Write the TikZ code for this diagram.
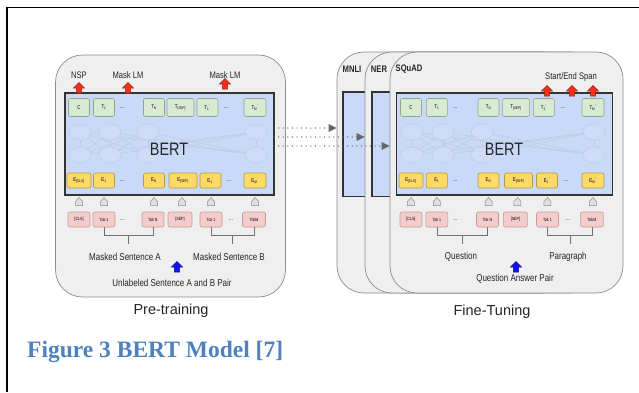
\documentclass[tikz,border=0pt]{standalone}
\usepackage{fontspec}
\setmainfont{Liberation Sans}[FakeStretch=0.8]
\newfontfamily\titlefont{Liberation Sans}
\newfontfamily\capfont{Liberation Serif}
\usetikzlibrary{calc,arrows.meta,shapes.geometric}

\definecolor{panelfill}{HTML}{EFEFEF}
\definecolor{panelline}{HTML}{8C8C8C}
\definecolor{bertfill}{HTML}{C9DAF8}
\definecolor{greenfill}{HTML}{D9EAD3}
\definecolor{greenline}{HTML}{8FA68A}
\definecolor{yellowfill}{HTML}{FFD966}
\definecolor{yellowline}{HTML}{B09A48}
\definecolor{pinkfill}{HTML}{F4CCCC}
\definecolor{pinkline}{HTML}{C49A9A}
\definecolor{capblue}{HTML}{4F81BD}
\definecolor{arrred}{HTML}{F0301A}
\definecolor{arrblue}{HTML}{1010F0}
\definecolor{neurfill}{HTML}{CFDCF7}
\definecolor{neurline}{HTML}{BDCBE5}

\tikzset{
  x=1pt, y=-1pt,
  panel/.style={draw=panelline, fill=panelfill, rounded corners=27pt, line width=0.7pt, inner sep=0},
  bertbox/.style={draw=black!80, fill=bertfill, line width=1.1pt},
  tokbase/.style={rounded corners=2pt, inner sep=0, line width=0.6pt, font=\fontsize{5.5}{6}\selectfont},
  tokg/.style={tokbase, draw=greenline, fill=greenfill, minimum height=18pt},
  toky/.style={tokbase, draw=yellowline, fill=yellowfill, minimum height=15pt},
  tokp/.style={tokbase, draw=pinkline, fill=pinkfill, minimum height=15pt, font=\fontsize{4.5}{5}\selectfont},
  dotsnode/.style={inner sep=0, font=\fontsize{6}{6}\selectfont},
  neuron/.style={ellipse, draw=neurline, fill=neurfill, minimum width=22pt, minimum height=16pt, inner sep=0, line width=0.5pt},
  faint/.style={draw=neurline, line width=0.6pt},
  brk/.style={draw=black!55, line width=0.6pt},
  bertlbl/.style={inner sep=0, font=\fontsize{18}{20}\selectfont, text=black!85},
  lbl/.style={inner sep=0, font=\fontsize{10}{12}\selectfont, text=black!85},
  toplbl/.style={inner sep=0, font=\fontsize{9.5}{11}\selectfont, text=black!85},
  tasklbl/.style={inner sep=0, font=\bfseries\fontsize{9.5}{11}\selectfont, text=black!85},
  titlelbl/.style={inner sep=0, font=\titlefont\fontsize{14.5}{16}\selectfont, text=black!85},
  house/.pic={\path[pic actions] (-3.5,0) -- (-3.5,-4) -- (0,-8) -- (3.5,-4) -- (3.5,0) -- cycle;},
  uparrow/.pic={\path[pic actions] (-2.6,0) -- (-2.6,-5) -- (-5.5,-5) -- (0,-10.5) -- (5.5,-5) -- (2.6,-5) -- (2.6,0) -- cycle;},
  redarr/.style={fill=arrred, draw=arrred!65!black, line width=0.5pt},
  bluearr/.style={fill=arrblue, draw=arrblue!60!black, line width=0.5pt},
  housestyle/.style={fill=black!12, draw=black!45, line width=0.5pt},
  dotarr/.style={draw=black!60, line width=1.4pt, line cap=round, dash pattern=on 0pt off 4.6pt,
    -{Triangle[length=8pt,width=7.5pt]}},
}

\newcommand\drawbertcore{%
  \path[bertbox] (65,93) rectangle (274,195);
  \coordinate (boxe) at (274,144);
  % transformer layers
  \foreach \i/\x in {1/80,2/110,3/148,4/256}{
    \coordinate (ca\i) at (\x,132);
    \coordinate (cb\i) at (\x,155);
  }
  \foreach \i in {1,...,4}{\foreach \j in {1,...,4}{\draw[faint] (cb\i) -- (ca\j);}}
  \foreach \i/\x in {1/80,2/110,3/148,4/256}{
    \node[neuron] (na\i) at (\x,132) {};
    \node[neuron] (nb\i) at (\x,155) {};
  }
  \node[bertlbl] (bert) at (169,149.5) {BERT};
  % output tokens
  \foreach \n/\x/\w/\t in {gc/79/21/C, g1/104/21/{T\textsubscript{1}}, gn/154/21/{T\textsubscript{N}},
      gs/180.5/27/{T\textsubscript{[SEP]}}, g1p/207.5/21/{T\textsubscript{1}\textsuperscript{'}}, gm/255/22/{T\textsubscript{M}\textsuperscript{'}}}{
    \node[tokg, minimum width=\w pt] (\n) at (\x,107.5) {\t};
  }
  \node[dotsnode] (gd1) at (122,108) {...};
  \node[dotsnode] (gd2) at (226,108) {...};
  % embeddings
  \foreach \n/\x/\w/\t in {ec/79/24/{E\textsubscript{[CLS]}}, e1/104/21/{E\textsubscript{1}}, en/154/21/{E\textsubscript{N}},
      es/183/28/{E\textsubscript{[SEP]}}, e1p/210.5/21/{E\textsubscript{1}\textsuperscript{'}}, em/255/22/{E\textsubscript{M}\textsuperscript{'}}}{
    \node[toky, minimum width=\w pt] (\n) at (\x,180.5) {\t};
  }
  \node[dotsnode] (ed1) at (122,181) {...};
  \node[dotsnode] (ed2) at (229,181) {...};
  % input arrows
  \foreach \x in {79,104,154,182,211,255}{\pic[housestyle] at (\x,205.5) {house};}
  % input tokens
  \foreach \n/\x/\w/\t in {pc/79/22/[CLS], p1/104/22/Tok 1, pn/153/22/Tok N,
      ps/180/24/[SEP], p1p/211/22/Tok 1, pm/254/23/TokM}{
    \node[tokp, minimum width=\w pt] (\n) at (\x,219.5) {\t};
  }
  \node[dotsnode] (pd1) at (122,220) {...};
  \node[dotsnode] (pd2) at (231,220) {...};
  % brackets
  \draw[brk] (p1.south) -- ++(0,8) -| (pn.south);
  \coordinate (ma) at ($(p1.south)!0.5!(pn.south)+(0,8)$);
  \draw[brk] (ma) -- ++(0,9) coordinate (mae);
  \draw[brk] (p1p.south) -- ++(0,8) -| (pm.south);
  \coordinate (mb) at ($(p1p.south)!0.5!(pm.south)+(0,8)$);
  \draw[brk] (mb) -- ++(0,9) coordinate (mbe);
}

\begin{document}
\begin{tikzpicture}
\useasboundingbox (0,0) rectangle (639,392);
\fill[white] (0,0) rectangle (639,392);
% frame
\draw[line width=1.3pt] (7,392) -- (7,7.5) -- (639,7.5);

% ---------- Pre-training ----------
\node[panel, minimum width=230pt, minimum height=242pt] (pre) at (170.5,176) {};
\begin{scope}[name prefix=pt-]
  \drawbertcore
\end{scope}
\node[toplbl] (nsp) at (79,75) {NSP};
\node[toplbl] (mlm1) at (128,75) {Mask LM};
\node[toplbl] (mlm2) at (225,75) {Mask LM};
\pic[redarr] at (79,93) {uparrow};
\pic[redarr] at (128,93) {uparrow};
\pic[redarr] at (225,89) {uparrow};
\node[lbl] (msa) at (125,257) {Masked Sentence A};
\node[lbl] (msb) at (229,257) {Masked Sentence B};
\pic[bluearr] at (177,272) {uparrow};
\node[lbl] (upair) at (172,283) {Unlabeled Sentence A and B Pair};
\node[titlelbl] (pretitle) at (171,311) {Pre-training};

% ---------- Fine-tuning ----------
\node[panel, minimum width=233pt, minimum height=241pt] (mnli) at (453.5,172.5) {};
\path[bertbox] (343,92) rectangle (560,196.5);
\node[panel, minimum width=233pt, minimum height=241pt] (ner) at (481.5,172.5) {};
\path[bertbox] (372,92) rectangle (590,196.5);
\node[panel, minimum width=233pt, minimum height=241pt] (squad) at (506.5,172.5) {};
\begin{scope}[shift={(329.3,0)}, xscale=1.034, name prefix=ft-]
  \drawbertcore
\end{scope}
\node[tasklbl] (tmnli) at (352,69) {MNLI};
\node[tasklbl] (tner) at (379,69) {NER};
\node[tasklbl] (tsquad) at (409,69) {SQuAD};
\node[toplbl] (span) at (571,77) {Start/End Span};
\pic[redarr] at (547,96) {uparrow};
\pic[redarr] at (572,96) {uparrow};
\pic[redarr] at (593,96) {uparrow};
\node[lbl] (quest) at (461,257) {Question};
\node[lbl] (para) at (568,257) {Paragraph};
\pic[bluearr] at (516,272) {uparrow};
\node[lbl] (qapair) at (515,279) {Question Answer Pair};
\node[titlelbl] (fttitle) at (492,312) {Fine-Tuning};

% ---------- transfer arrows ----------
\draw[dotarr] ([yshift=16pt]pt-boxe) -- ([yshift=16pt]pt-boxe -| mnli.west);
\draw[dotarr] ([yshift=7pt]pt-boxe) -- ([yshift=7pt]pt-boxe -| ner.west);
\draw[dotarr] ([yshift=-2pt]pt-boxe) -- ([yshift=-2pt]pt-boxe -| squad.west);

% ---------- caption ----------
\node[anchor=base west, inner sep=0, font=\capfont\bfseries\fontsize{23.5}{26}\selectfont, text=capblue] (cap) at (27,357) {Figure 3 BERT Model [7]};
\end{tikzpicture}
\end{document}
